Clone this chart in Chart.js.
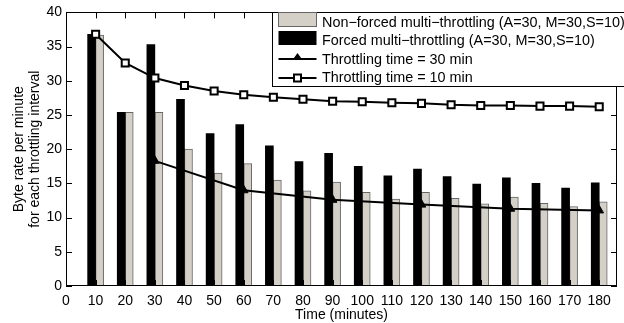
<!DOCTYPE html>
<html><head><meta charset="utf-8">
<script src="https://cdn.jsdelivr.net/npm/chart.js@4.4.0/dist/chart.umd.min.js"></script>
<style>html,body{margin:0;padding:0;background:#fff}#wrap{width:624px;height:323px}</style>
</head><body><div id="wrap"><canvas id="c" width="624" height="323"></canvas></div>
<script>
// ---- data ----
const times = [10,20,30,40,50,60,70,80,90,100,110,120,130,140,150,160,170,180];
const forced    = [36.8,25.4,35.3,27.3,22.3,23.6,20.5,18.2,19.4,17.5,16.1,17.1,16.0,14.9,15.8,15.0,14.3,15.1];
const nonForced = [36.7,25.4,25.4,20.0,16.5,17.9,15.5,13.9,15.2,13.7,12.7,13.7,12.8,12.0,13.0,12.1,11.6,12.3];
const thr30Times = [30,60,90,120,150,180];
const thr30      = [18.3,14.0,12.6,11.9,11.3,11.05];
const thr10      = [36.8,32.6,30.4,29.3,28.5,27.95,27.6,27.3,27.0,26.95,26.8,26.7,26.5,26.4,26.4,26.3,26.3,26.2];
const yTicks = [0,5,10,15,20,25,30,35,40];
const xTicks = [0,10,20,30,40,50,60,70,80,90,100,110,120,130,140,150,160,170,180];
const labels = {
  nonForced: 'Non\u2212forced multi\u2212throttling (A=30, M=30,S=10)',
  forced: 'Forced multi\u2212throttling (A=30, M=30,S=10)',
  thr30: 'Throttling time = 30 min',
  thr10: 'Throttling time = 10 min',
  x: 'Time (minutes)',
  y: ['Byte rate per minute', 'for each throttling interval']
};
// --------------------------------------
const FONT = '"Liberation Sans", Arial, Helvetica, sans-serif';
const GRAY = '#d4d0c8';
const GRAYB = '#666666';
const xy = (xs, ys) => xs.map((x, i) => ({x, y: ys[i]}));

const frame = {
  id: 'frame',
  afterDraw(chart) {
    const {ctx, chartArea: a, scales: {x, y}} = chart;
    ctx.save();
    ctx.strokeStyle = '#000';
    ctx.lineWidth = 1;
    ctx.strokeRect(Math.round(a.left) + 0.5, Math.round(a.top) + 0.5, Math.round(a.right - a.left) - 1, Math.round(a.bottom - a.top) - 1);
    ctx.beginPath();
    const tl = 6;
    yTicks.forEach(v => {
      const p = Math.round(y.getPixelForValue(v)) + 0.5;
      ctx.moveTo(a.left, p); ctx.lineTo(a.left + tl, p);
      ctx.moveTo(a.right, p); ctx.lineTo(a.right - tl, p);
    });
    xTicks.forEach(v => {
      const p = Math.round(x.getPixelForValue(v)) + 0.5;
      ctx.moveTo(p, a.bottom); ctx.lineTo(p, a.bottom - tl);
      ctx.moveTo(p, a.top); ctx.lineTo(p, a.top + tl);
    });
    ctx.stroke();

    // axis titles
    ctx.fillStyle = '#000';
    ctx.font = '14px ' + FONT;
    ctx.textAlign = 'center';
    ctx.textBaseline = 'alphabetic';
    ctx.fillText(labels.x, (a.left + a.right) / 2, 319);
    const cy = (a.top + a.bottom) / 2;
    ctx.save();
    ctx.translate(23, cy); ctx.rotate(-Math.PI / 2);
    ctx.fillText(labels.y[0], 0, 0);
    ctx.restore();
    ctx.save();
    ctx.translate(38.5, cy); ctx.rotate(-Math.PI / 2);
    ctx.fillText(labels.y[1], 0, 0);
    ctx.restore();

    // legend
    const L = 272.5, T = Math.round(a.top) + 0.5, B = 86.5;
    ctx.fillStyle = '#fff';
    ctx.fillRect(L, T, 640 - L, B - T);
    ctx.strokeStyle = '#000';
    ctx.strokeRect(L, T, 640 - L, B - T);
    const sx0 = 278.5, sx1 = 316.5, tx = 322;
    ctx.fillStyle = GRAY; ctx.fillRect(sx0, 12.5, sx1 - sx0, 14);
    ctx.strokeStyle = GRAYB; ctx.strokeRect(sx0, 12.5, sx1 - sx0, 14);
    ctx.fillStyle = '#000'; ctx.fillRect(sx0, 31, sx1 - sx0, 14);
    ctx.strokeStyle = '#000'; ctx.lineWidth = 2;
    ctx.beginPath(); ctx.moveTo(sx0, 59); ctx.lineTo(sx1, 59); ctx.stroke();
    ctx.beginPath(); ctx.moveTo(297.5, 53); ctx.lineTo(302.5, 60); ctx.lineTo(292.5, 60); ctx.closePath(); ctx.fill();
    ctx.beginPath(); ctx.moveTo(sx0, 78); ctx.lineTo(sx1, 78); ctx.stroke();
    ctx.fillStyle = '#fff'; ctx.fillRect(294, 74.5, 7, 7);
    ctx.strokeRect(294, 74.5, 7, 7);
    ctx.fillStyle = '#000';
    ctx.textAlign = 'left';
    ctx.font = '14.4px ' + FONT;
    ctx.fillText(labels.nonForced, tx, 26.5);
    ctx.fillText(labels.forced, tx, 45.2);
    ctx.fillText(labels.thr30, tx, 63.8);
    ctx.fillText(labels.thr10, tx, 82.4);
    ctx.restore();
  }
};

new Chart(document.getElementById('c'), {
  type: 'bar',
  data: {
    datasets: [
      {type: 'bar', label: labels.forced, data: xy(times, forced), backgroundColor: '#000', borderWidth: 0, barThickness: 8, order: 3},
      {type: 'bar', label: labels.nonForced, data: xy(times, nonForced), backgroundColor: GRAY, borderColor: GRAYB, borderWidth: 1, barThickness: 8, order: 3},
      {type: 'line', label: labels.thr30, data: xy(thr30Times, thr30), borderColor: '#000', borderWidth: 2, pointStyle: 'triangle', pointRadius: 5, pointBackgroundColor: '#000', pointBorderColor: '#000', pointBorderWidth: 1, order: 1},
      {type: 'line', label: labels.thr10, data: xy(times, thr10), borderColor: '#000', borderWidth: 2, pointStyle: 'rect', pointRadius: 5, pointBackgroundColor: '#fff', pointBorderColor: '#000', pointBorderWidth: 2, order: 0}
    ]
  },
  options: {
    responsive: false,
    animation: false,
    events: [],
    layout: {padding: {top: 7, right: 3, left: 0, bottom: 0}},
    plugins: {legend: {display: false}, tooltip: {enabled: false}},
    scales: {
      x: {
        type: 'linear', min: 0, max: 186, offset: false,
        grid: {display: false, drawTicks: false},
        border: {display: false},
        ticks: {stepSize: 10, includeBounds: false, autoSkip: false, maxRotation: 0, padding: 7, color: '#000', font: {family: FONT, size: 14}},
        afterFit(s) { s.height = 37; }
      },
      y: {
        type: 'linear', min: 0, max: 40,
        grid: {display: false, drawTicks: false},
        border: {display: false},
        ticks: {stepSize: 5, padding: 4, color: '#000', font: {family: FONT, size: 14}},
        afterFit(s) { s.width = 66; }
      }
    }
  },
  plugins: [frame]
});
</script>
</body></html>
